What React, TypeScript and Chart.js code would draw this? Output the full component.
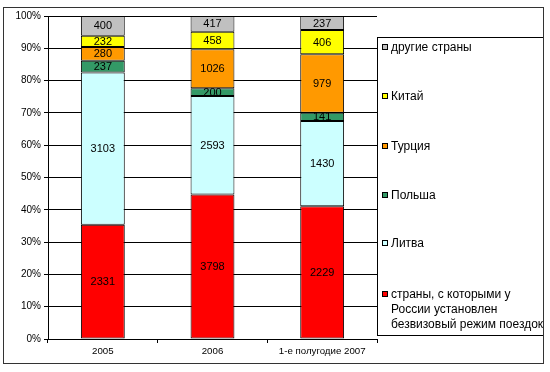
import React, { useEffect, useRef } from "react";
import { Chart, registerables } from "chart.js";

Chart.register(...registerables);

const categories = ["2005", "2006", "1-е полугодие 2007"];
const seriesNames = [
  "страны, с которыми у России установлен безвизовый режим поездок",
  "Литва",
  "Польша",
  "Турция",
  "Китай",
  "другие страны",
];
const legendLines = [
  ["страны, с которыми у", "России установлен", "безвизовый режим поездок"],
  ["Литва"],
  ["Польша"],
  ["Турция"],
  ["Китай"],
  ["другие страны"],
];
const visaFree = [2331, 3798, 2229];
const lithuania = [3103, 2593, 1430];
const poland = [237, 200, 141];
const turkey = [280, 1026, 979];
const china = [232, 458, 406];
const others = [400, 417, 237];
const seriesColors = ["#FF0000", "#CCFFFF", "#339966", "#FF9900", "#FFFF00", "#C0C0C0"];
const yTicks = [0, 10, 20, 30, 40, 50, 60, 70, 80, 90, 100];

const seriesValues = [visaFree, lithuania, poland, turkey, china, others];

export default function App() {
  const ref = useRef<HTMLCanvasElement | null>(null);
  useEffect(() => {
    document.body.style.margin = "0";
    const totals = categories.map((_, i) => seriesValues.reduce((s, arr) => s + arr[i], 0));
    const datasets = seriesValues.map((vals, k) => ({
      label: seriesNames[k],
      data: vals.map((v, i) => (v / totals[i]) * 100),
      raw: vals,
      backgroundColor: seriesColors[k],
      borderColor: "#000000",
      borderWidth: 1,
      borderSkipped: false as const,
      barPercentage: 0.4,
      categoryPercentage: 1,
    }));

    const custom = {
      id: "custom",
      afterDatasetsDraw(chart: any) {
        const ctx = chart.ctx;
        ctx.save();
        ctx.font = "11px Arial, 'Liberation Sans'";
        ctx.fillStyle = "#000";
        ctx.textAlign = "center";
        ctx.textBaseline = "middle";
        chart.data.datasets.forEach((ds: any, di: number) => {
          const meta = chart.getDatasetMeta(di);
          meta.data.forEach((el: any, i: number) => {
            const y = (el.y + el.base) / 2;
            ctx.fillText(String(ds.raw[i]), el.x, y + 0.5);
          });
        });
        ctx.restore();
      },
      afterDraw(chart: any) {
        const ctx = chart.ctx;
        ctx.save();
        // legend box
        const lx = 377.5, ly = 37.5, lw = 166, lh = 298;
        ctx.fillStyle = "#fff";
        ctx.fillRect(lx, ly, lw, lh);
        ctx.strokeStyle = "#000";
        ctx.lineWidth = 1;
        ctx.strokeRect(lx, ly, lw, lh);
        ctx.beginPath();
        ctx.rect(lx, ly, lw, lh);
        ctx.clip();
        ctx.font = "12px Arial, 'Liberation Sans'";
        ctx.textBaseline = "middle";
        ctx.textAlign = "left";
        const itemY = [295, 244, 196, 147, 97, 48];
        for (let k = 0; k < seriesNames.length; k++) {
          const y = itemY[k];
          ctx.fillStyle = seriesColors[k];
          ctx.fillRect(382.5, y - 3.5, 5, 5);
          ctx.strokeStyle = "#000";
          ctx.strokeRect(382.5, y - 3.5, 5, 5);
          ctx.fillStyle = "#000";
          legendLines[k].forEach((line, j) => {
            ctx.fillText(line, 391, y + j * 15);
          });
        }
        ctx.restore();
        ctx.save();
        // outer border
        ctx.strokeStyle = "#333";
        ctx.lineWidth = 1;
        ctx.strokeRect(3.5, 7.5, 540, 356);
        ctx.restore();
      },
    };

    const chart = new Chart(ref.current!, {
      type: "bar",
      data: { labels: categories, datasets: datasets as any },
      options: {
        animation: false,
        responsive: false,
        maintainAspectRatio: false,
        layout: { padding: { left: 0, right: 173, top: 16, bottom: 12 } },
        plugins: { legend: { display: false }, tooltip: { enabled: false } },
        scales: {
          x: {
            stacked: true,
            afterFit: (s: any) => { s.height = 21; },
            grid: {
              offset: true,
              drawOnChartArea: false,
              drawTicks: true,
              tickLength: 4,
              color: "#000",
            },
            border: { color: "#000" },
            ticks: {
              font: { family: "Arial, 'Liberation Sans'", size: 9.7 },
              color: "#000",
              padding: 3,
              maxRotation: 0,
            },
          },
          y: {
            stacked: true,
            min: 0,
            max: 100,
            afterFit: (s: any) => { s.width = 48; },
            afterBuildTicks: (s: any) => { s.ticks = yTicks.map((v) => ({ value: v })); },
            grid: { color: "#000", tickLength: 4 },
            border: { color: "#000" },
            ticks: {
              font: { family: "Arial, 'Liberation Sans'", size: 10 },
              color: "#000",
              padding: 3,
              callback: (v: any) => v + "%",
            },
          },
        },
      },
      plugins: [custom],
    });
    return () => chart.destroy();
  }, []);
  return (
    <div style={{ width: 550, height: 372 }}>
      <canvas ref={ref} width={550} height={372} style={{ display: "block" }} />
    </div>
  );
}
